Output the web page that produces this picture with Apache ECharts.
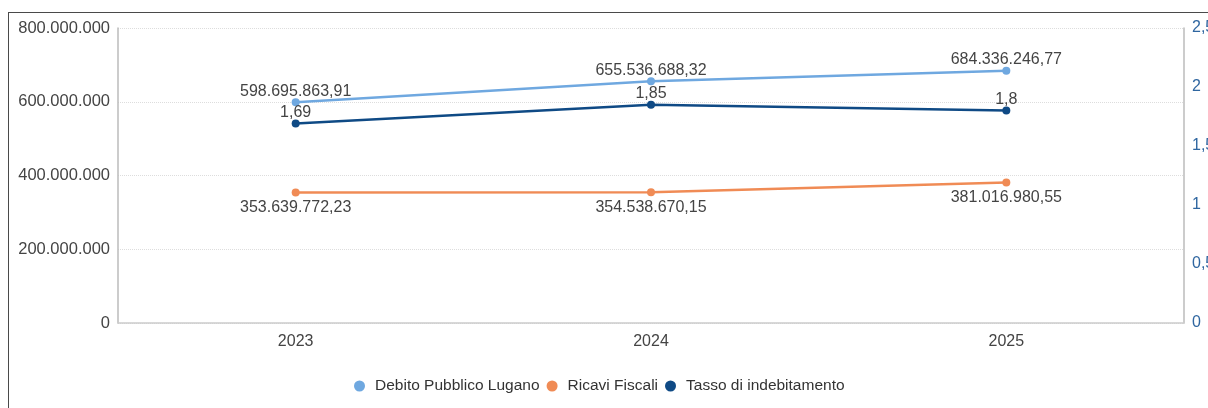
<!DOCTYPE html>
<html>
<head>
<meta charset="utf-8">
<title>Debito Lugano</title>
<script src="https://cdn.jsdelivr.net/npm/echarts@6/dist/echarts.min.js"></script>
<style>
  html, body { margin: 0; padding: 0; background: #fff; overflow: hidden; }
  #frame { position: absolute; left: 8px; top: 12px; width: 1240px; height: 440px; border: 1.5px solid #4a4a4a; box-sizing: border-box; }
  #main { position: absolute; left: 0; top: 0; width: 1208px; height: 408px; }
</style>
</head>
<body>
<div id="frame"></div>
<div id="main"></div>
<script type="text/javascript">
var years = ['2023', '2024', '2025'];
var debito = [598695863.91, 655536688.32, 684336246.77];
var ricavi = [353639772.23, 354538670.15, 381016980.55];
var tasso = [1.69, 1.85, 1.8];

function fmt(v) {
  var parts = String(v).split('.');
  var intPart = parts[0].replace(/\B(?=(\d{3})+(?!\d))/g, '.');
  return parts[1] ? intPart + ',' + parts[1] : intPart;
}

var fontFam = 'Liberation Sans, Arial, sans-serif';
var myChart = echarts.init(document.getElementById('main'), null, {renderer: 'canvas'});
var option = {
  animation: false,
  textStyle: {fontFamily: fontFam},
  color: ['#6fa8e0', '#f08b55', '#0f4a85'],
  grid: {left: 118, right: 24, top: 28, bottom: 85, containLabel: false, outerBoundsMode: 'none'},
  legend: {
    bottom: 9,
    left: 349,
    icon: 'circle',
    itemWidth: 11,
    itemHeight: 11,
    itemGap: 7,
    textStyle: {fontSize: 15.5, color: '#333', fontFamily: fontFam, padding: [0, 0, 0, 5]},
    data: ['Debito Pubblico Lugano', 'Ricavi Fiscali', 'Tasso di indebitamento']
  },
  xAxis: {
    type: 'category',
    data: years,
    boundaryGap: true,
    axisLine: {lineStyle: {color: '#ccc', width: 1.5}},
    axisTick: {alignWithLabel: true, lineStyle: {color: '#ccc'}, length: 5},
    axisLabel: {fontSize: 16, color: '#444', margin: 11}
  },
  yAxis: [
    {
      type: 'value',
      min: 0, max: 800000000, interval: 200000000,
      axisLine: {show: true, lineStyle: {color: '#bbb', width: 1.5}},
      axisTick: {show: false},
      splitLine: {lineStyle: {color: '#ddd', type: 'dotted'}},
      axisLabel: {fontSize: 16.5, color: '#444', margin: 8, formatter: fmt}
    },
    {
      type: 'value',
      min: 0, max: 2.5, interval: 0.5,
      axisLine: {show: true, lineStyle: {color: '#bbb', width: 1.5}},
      axisTick: {show: false},
      splitLine: {show: false},
      axisLabel: {fontSize: 16, color: '#2f66a0', margin: 8, formatter: function (v) { return String(v).replace('.', ','); }}
    }
  ],
  series: [
    {
      name: 'Debito Pubblico Lugano',
      type: 'line',
      data: debito,
      symbol: 'circle', symbolSize: 8,
      lineStyle: {width: 2.5},
      label: {show: true, position: 'top', fontSize: 16, color: '#444', distance: 0, offset: [0, 1], formatter: function (p) { return fmt(p.value); }}
    },
    {
      name: 'Ricavi Fiscali',
      type: 'line',
      data: ricavi,
      symbol: 'circle', symbolSize: 8,
      lineStyle: {width: 2.5},
      label: {show: true, position: 'bottom', fontSize: 16, color: '#444', distance: 3, formatter: function (p) { return fmt(p.value); }}
    },
    {
      name: 'Tasso di indebitamento',
      type: 'line',
      yAxisIndex: 1,
      data: tasso,
      symbol: 'circle', symbolSize: 8,
      lineStyle: {width: 2.5},
      label: {show: true, position: 'top', fontSize: 16, color: '#444', distance: 0, offset: [0, 1], formatter: function (p) { return fmt(p.value); }}
    }
  ]
};
myChart.setOption(option);
</script>
</body>
</html>
